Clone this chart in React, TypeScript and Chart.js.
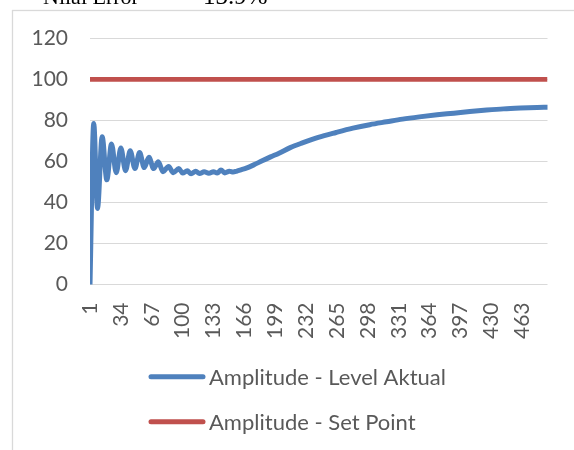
import { useEffect, useRef } from "react";
import { Chart, registerables } from "chart.js";

Chart.register(...registerables);

// ---- data ----
const xTickValues = [1, 34, 67, 100, 133, 166, 199, 232, 265, 298, 331, 364, 397, 430, 463];
const yTickMin = 0;
const yTickMax = 120;
const yTickStep = 20;
const sampleCount = 490;

const levelIdx = [
  1, 5, 9, 14, 19, 24, 29, 34, 39, 44, 49, 54, 59, 64, 69, 74, 79, 85, 90, 96,
  100, 105, 109, 114, 118, 123, 128, 133, 137, 141, 145, 150, 154, 158, 163, 168,
  176, 185, 194, 203, 215, 228, 245, 264, 282, 300, 318, 335, 353, 372, 390, 407,
  425, 443, 461, 479, 490,
];
const levelVal = [
  0, 78.5, 37, 72, 51, 68.5, 54.5, 66.5, 55.5, 65.2, 56.5, 64.3, 57, 62, 56.5, 59.8,
  55, 57.5, 54.5, 56.5, 54.3, 55.4, 54, 55.2, 54.1, 54.9, 54.2, 55, 54.3, 55.8, 54.4,
  55.2, 54.8, 55.3, 56, 56.7, 58.3, 60.3, 62.2, 64, 66.7, 69, 71.7, 74.1, 76.2, 77.9,
  79.3, 80.6, 81.7, 82.7, 83.5, 84.3, 85, 85.6, 86, 86.3, 86.4,
];

const setPointIdx = [1, 490];
const setPointVal = [100, 100];

const seriesNames = ["Amplitude - Level Aktual", "Amplitude - Set Point"];
const seriesColors = ["#4f81bd", "#c0504d"];
const titleParts = ["Nilai Error", "=", "13.9%"];

const TEXT = "#595959";
const GRID = "#d9d9d9";
const FONT = "Lato";

const decorPlugin = {
  id: "decor",
  beforeDraw(chart: any) {
    const ctx = chart.ctx;
    ctx.save();
    ctx.fillStyle = "#ffffff";
    ctx.fillRect(0, 0, chart.width, chart.height);
    ctx.strokeStyle = GRID;
    ctx.lineWidth = 1.3;
    ctx.strokeRect(12.5, 10.5, 700, 600);
    ctx.fillStyle = "#000000";
    ctx.font = '22px "Liberation Serif"';
    ctx.textBaseline = "alphabetic";
    ctx.textAlign = "left";
    ctx.fillText(titleParts[0], 43, 4);
    ctx.fillText(titleParts[1], 162, 4);
    ctx.font = '25px "Liberation Serif"';
    ctx.fillText(titleParts[2], 203, 4);
    ctx.restore();
  },
  afterDraw(chart: any) {
    const ctx = chart.ctx;
    ctx.save();
    const baseY = 376.7;
    const gap = 45;
    chart.data.datasets.forEach((ds: any, i: number) => {
      const y = baseY + i * gap;
      ctx.strokeStyle = ds.borderColor;
      ctx.lineWidth = 5;
      ctx.lineCap = "round";
      ctx.beginPath();
      ctx.moveTo(151, y);
      ctx.lineTo(203, y);
      ctx.stroke();
      ctx.fillStyle = TEXT;
      ctx.font = `22px ${FONT}`;
      ctx.textAlign = "left";
      ctx.textBaseline = "alphabetic";
      ctx.fillText(ds.label, 209, y + 8);
    });
    ctx.restore();
  },
};

export default function App() {
  const ref = useRef<HTMLCanvasElement | null>(null);

  useEffect(() => {
    if (!ref.current) return;
    const chart = new Chart(ref.current, {
      type: "line",
      data: {
        datasets: [
          {
            label: seriesNames[0],
            data: levelIdx.map((x, i) => ({ x, y: levelVal[i] })),
            borderColor: seriesColors[0],
            backgroundColor: seriesColors[0],
            borderWidth: 5,
            pointRadius: 0,
            cubicInterpolationMode: "monotone",
            borderJoinStyle: "round",
            borderCapStyle: "round",
          },
          {
            label: seriesNames[1],
            data: setPointIdx.map((x, i) => ({ x, y: setPointVal[i] })),
            borderColor: seriesColors[1],
            backgroundColor: seriesColors[1],
            borderWidth: 4.8,
            pointRadius: 0,
            borderCapStyle: "butt",
          },
        ],
      },
      options: {
        responsive: false,
        animation: false,
        events: [],
        layout: { padding: { left: 0, right: 26.5, top: 38.3, bottom: 105.5 } },
        plugins: {
          legend: { display: false },
          title: { display: false },
          tooltip: { enabled: false },
        },
        scales: {
          x: {
            type: "linear",
            min: 1,
            max: sampleCount,
            afterBuildTicks: (scale: any) => {
              scale.ticks = xTickValues.map((v) => ({ value: v }));
            },
            afterFit: (scale: any) => {
              scale.height = 60;
            },
            grid: { display: false, drawTicks: false },
            border: { display: false },
            ticks: {
              autoSkip: false,
              minRotation: 90,
              maxRotation: 90,
              padding: 18,
              color: TEXT,
              font: { family: FONT, size: 21 },
              callback: (v: any) => String(v),
            },
          },
          y: {
            min: yTickMin,
            max: yTickMax,
            afterFit: (scale: any) => {
              scale.width = 90;
            },
            grid: { color: GRID, lineWidth: 1, drawTicks: false },
            border: { display: false },
            ticks: {
              stepSize: yTickStep,
              padding: 22,
              color: TEXT,
              font: { family: FONT, size: 21 },
            },
          },
        },
      },
      plugins: [decorPlugin],
    } as any);
    return () => chart.destroy();
  }, []);

  return (
    <div style={{ position: "absolute", left: 0, top: 0, width: 574, height: 450 }}>
      <canvas ref={ref} width={574} height={450} style={{ display: "block" }} />
    </div>
  );
}
